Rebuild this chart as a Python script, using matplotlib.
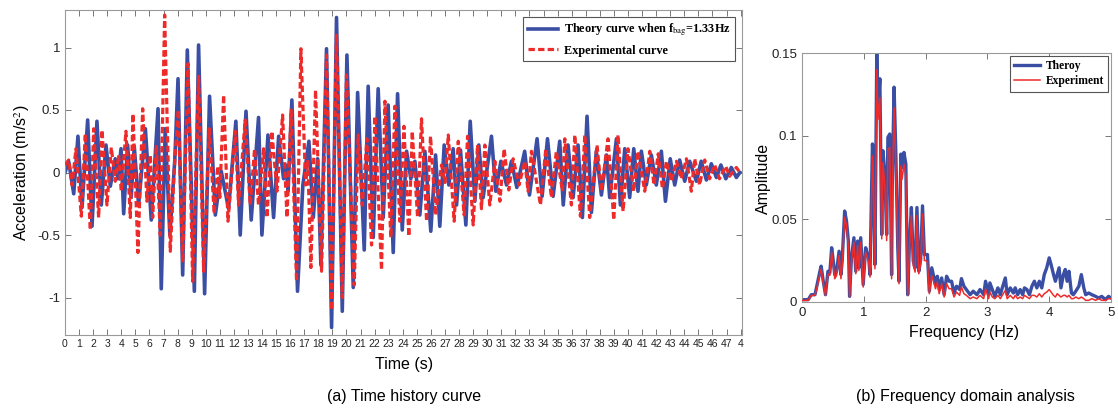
import matplotlib
matplotlib.use("Agg")
import matplotlib.pyplot as plt

# ---------------- data: time history (extrema) ----------------
theory_t = [0.00, 0.26, 0.62, 0.92, 1.21, 1.61, 1.92, 2.27, 2.58, 2.91,
            3.22, 3.57, 3.76, 3.98, 4.17, 4.45, 4.70, 4.92, 5.23, 5.71,
            6.13, 6.61, 6.84, 7.12, 7.45, 7.80, 8.03, 8.36, 8.69, 9.19,
            9.49, 9.92, 10.27, 10.68, 11.10, 11.62, 12.14, 12.45, 12.86, 13.23,
            13.75, 13.99, 14.42, 14.82, 15.18, 15.53, 15.70, 15.85, 16.12, 16.52,
            16.90, 17.33, 17.64, 17.95, 18.18, 18.58, 18.94, 19.29, 19.70, 20.03,
            20.48, 20.79, 21.26, 21.54, 21.90, 22.25, 22.61, 22.96, 23.32, 23.63,
            23.96, 24.27, 24.57, 24.86, 25.21, 25.57, 25.99, 26.33, 26.63, 26.94,
            27.27, 27.58, 27.82, 28.10, 28.48, 28.79, 29.12, 29.40, 29.71, 30.30,
            30.61, 30.97, 31.37, 31.72, 32.10, 32.66, 33.00, 33.54, 33.90, 34.28,
            34.68, 35.15, 35.40, 35.74, 36.10, 36.45, 36.76, 37.09, 37.40, 37.75,
            38.11, 38.47, 38.70, 39.18, 39.46, 39.77, 40.12, 40.41, 40.71, 40.95,
            41.30, 41.66, 42.01, 42.37, 42.66, 43.00, 43.32, 43.67, 44.03, 44.38,
            44.86, 45.20, 45.57, 45.92, 46.28, 46.60, 46.95, 47.34, 47.70, 47.95]
theory_a = [0.00, 0.09, -0.17, 0.29, -0.28, 0.42, -0.43, 0.41, -0.26, 0.22,
            -0.11, 0.11, -0.05, 0.19, -0.33, 0.22, -0.20, 0.21, -0.26, 0.35,
            -0.38, 0.51, -0.93, 0.35, -0.50, 0.10, 0.75, -0.82, 0.98, -0.95,
            1.02, -0.97, 0.61, -0.34, 0.01, -0.29, 0.41, -0.50, 0.49, -0.38,
            0.44, -0.50, 0.30, -0.36, 0.29, -0.05, 0.06, -0.15, 0.58, -0.95,
            -0.10, 0.25, -0.36, 0.11, -0.74, 0.99, -1.24, 1.24, -1.11, 0.94,
            -0.92, 0.64, -0.62, 0.69, -0.52, 0.67, -0.36, 0.54, -0.64, 0.63,
            -0.46, 0.17, -0.05, 0.09, -0.34, 0.17, -0.47, 0.14, -0.43, 0.22,
            -0.10, 0.19, -0.26, 0.18, -0.42, 0.41, -0.23, 0.22, -0.20, 0.29,
            -0.15, 0.09, -0.10, 0.09, -0.12, 0.17, -0.18, 0.27, -0.19, 0.27,
            -0.19, 0.25, -0.26, 0.22, -0.20, 0.22, -0.36, 0.45, -0.32, 0.17,
            -0.18, 0.14, -0.20, 0.27, -0.26, 0.19, -0.20, 0.19, -0.15, 0.17,
            -0.10, 0.14, -0.10, 0.17, -0.23, 0.11, -0.10, 0.10, -0.07, 0.09,
            -0.07, 0.09, -0.06, 0.07, -0.04, 0.06, -0.05, 0.04, -0.04, 0.00]

exp_t = [0.00, 0.26, 0.50, 0.78, 1.16, 1.44, 1.80, 2.04, 2.39, 2.63,
         2.98, 3.29, 3.57, 3.81, 4.00, 4.33, 4.64, 4.83, 5.18, 5.52,
         5.82, 6.06, 6.23, 6.49, 6.77, 7.08, 7.48, 7.80, 8.05, 8.36,
         8.74, 9.07, 9.49, 9.85, 10.25, 10.60, 10.85, 11.00, 11.27, 11.58,
         12.10, 12.33, 12.80, 13.16, 13.47, 13.75, 14.11, 14.35, 14.70, 15.06,
         15.46, 15.77, 16.07, 16.45, 16.76, 17.10, 17.25, 17.47, 17.80, 18.23,
         18.58, 18.94, 19.29, 19.70, 20.00, 20.55, 20.83, 21.12, 21.45, 21.78,
         22.02, 22.49, 22.73, 23.15, 23.44, 23.79, 24.08, 24.43, 24.67, 25.05,
         25.33, 25.69, 25.97, 26.33, 26.75, 27.00, 27.23, 27.65, 27.94, 28.36,
         28.60, 29.00, 29.31, 29.59, 29.83, 30.18, 30.54, 30.90, 31.20, 31.53,
         31.84, 32.26, 32.67, 32.90, 33.14, 33.78, 34.16, 34.56, 34.91, 35.34,
         35.51, 35.98, 36.22, 36.62, 36.93, 37.28, 37.80, 38.11, 38.58, 38.99,
         39.29, 39.65, 40.00, 40.41, 40.71, 41.19, 41.55, 41.85, 42.15, 42.45,
         42.73, 43.08, 43.44, 43.79, 44.15, 44.50, 44.74, 45.09, 45.45, 45.80,
         46.16, 46.50, 46.94, 47.22, 47.70, 47.95]
exp_a = [0.06, 0.10, -0.10, 0.19, -0.35, 0.31, -0.46, 0.35, -0.36, 0.34,
         -0.26, 0.20, -0.07, 0.14, -0.15, 0.33, -0.36, 0.47, -0.64, 0.51,
         -0.23, 0.14, -0.36, 0.22, -0.50, 1.26, -0.63, 0.10, 0.50, -0.72,
         0.87, -0.87, 0.78, -0.79, 0.35, -0.33, 0.05, -0.20, 0.62, -0.39,
         0.33, -0.26, 0.42, -0.26, 0.19, -0.26, 0.19, -0.36, 0.33, -0.15,
         0.46, -0.36, 0.50, -0.87, 0.99, -0.10, 0.10, -0.76, 0.66, -0.79,
         0.94, -1.10, 1.11, -1.00, 0.78, -0.90, 0.30, -0.26, 0.27, -0.58,
         0.45, -0.78, 0.57, -0.52, 0.53, -0.39, 0.37, -0.51, 0.33, -0.36,
         0.43, -0.39, 0.29, -0.34, 0.06, -0.08, 0.30, -0.39, 0.25, -0.34,
         0.29, -0.42, 0.22, -0.29, 0.22, -0.26, 0.09, -0.23, 0.19, -0.14,
         0.11, -0.10, 0.09, -0.15, 0.17, -0.26, 0.19, -0.20, 0.17, -0.15,
         0.27, -0.26, 0.30, -0.35, 0.30, -0.36, 0.22, -0.15, 0.27, -0.38,
         0.30, -0.31, 0.19, -0.15, 0.17, -0.15, 0.17, -0.10, 0.15, -0.13,
         0.09, -0.07, 0.09, -0.05, 0.11, -0.15, 0.11, -0.10, 0.10, -0.05,
         0.06, -0.05, 0.05, -0.03, 0.04, 0.00]

time_ticks = list(range(0, 49))
time_ticklabels = [str(i) for i in range(0, 48)] + ["4"]

# ---------------- data: frequency spectrum ----------------
freq = [0.00, 0.10, 0.15, 0.21, 0.25, 0.29, 0.31, 0.34, 0.38, 0.42,
        0.45, 0.48, 0.50, 0.53, 0.56, 0.60, 0.63, 0.65, 0.69, 0.72,
        0.75, 0.77, 0.80, 0.84, 0.87, 0.90, 0.92, 0.95, 0.99, 1.03,
        1.06, 1.08, 1.10, 1.14, 1.15, 1.18, 1.21, 1.23, 1.26, 1.29,
        1.31, 1.34, 1.37, 1.39, 1.42, 1.45, 1.46, 1.49, 1.52, 1.55,
        1.57, 1.60, 1.62, 1.65, 1.68, 1.71, 1.74, 1.77, 1.80, 1.83,
        1.86, 1.89, 1.92, 1.95, 1.98, 2.00, 2.03, 2.06, 2.10, 2.13,
        2.16, 2.19, 2.22, 2.26, 2.30, 2.34, 2.38, 2.42, 2.46, 2.50,
        2.55, 2.58, 2.62, 2.66, 2.72, 2.77, 2.83, 2.88, 2.94, 2.97,
        3.02, 3.04, 3.08, 3.12, 3.17, 3.21, 3.24, 3.29, 3.32, 3.37,
        3.42, 3.45, 3.49, 3.53, 3.57, 3.60, 3.64, 3.68, 3.72, 3.76,
        3.80, 3.84, 3.88, 3.92, 3.96, 4.00, 4.03, 4.07, 4.10, 4.13,
        4.16, 4.19, 4.23, 4.26, 4.29, 4.32, 4.36, 4.39, 4.43, 4.48,
        4.52, 4.56, 4.59, 4.64, 4.69, 4.75, 4.80, 4.85, 4.91, 4.96,
        5.00]
amp_theory = [.0014, .0014, .0044, .0044, .0115, .0185, .0216, .0135, .0044, .0185,
              .0175, .0327, .0266, .0165, .0185, .0306, .0165, .0246, .0548, .0488,
              .0367, .0034, .0266, .0387, .0185, .0367, .0206, .0387, .0105, .0327,
              .0286, .0266, .0165, .0952, .0891, .0226, .1496, .1153, .1345, .0407,
              .0911, .0770, .0407, .0992, .1012, .0165, .0690, .1294, .0871, .0327,
              .0125, .0891, .0810, .0901, .0831, .0044, .0367, .0569, .0246, .0206,
              .0569, .0185, .0256, .0579, .0286, .0286, .0286, .0065, .0206, .0155,
              .0105, .0155, .0075, .0145, .0044, .0155, .0125, .0125, .0054, .0095,
              .0075, .0141, .0095, .0075, .0044, .0065, .0044, .0075, .0044, .0125,
              .0044, .0115, .0075, .0034, .0085, .0044, .0085, .0145, .0044, .0085,
              .0054, .0085, .0044, .0075, .0044, .0085, .0075, .0044, .0095, .0125,
              .0085, .0125, .0085, .0165, .0206, .0266, .0226, .0165, .0125, .0165,
              .0206, .0085, .0165, .0196, .0125, .0185, .0054, .0044, .0065, .0095,
              .0165, .0085, .0044, .0054, .0044, .0034, .0024, .0034, .0014, .0034,
              .0024]
amp_exp = [.001, .001, .004, .004, .010, .017, .020, .012, .004, .017,
           .016, .030, .024, .014, .016, .028, .014, .022, .051, .046,
           .033, .003, .024, .036, .017, .034, .019, .036, .009, .030,
           .026, .024, .015, .088, .082, .020, .140, .110, .123, .038,
           .084, .070, .037, .092, .093, .014, .063, .117, .080, .030,
           .011, .082, .074, .083, .076, .004, .033, .052, .022, .018,
           .052, .017, .023, .053, .025, .025, .024, .005, .016, .012,
           .008, .012, .005, .011, .003, .011, .008, .008, .003, .006,
           .004, .009, .005, .004, .002, .003, .002, .004, .002, .008,
           .002, .006, .003, .002, .004, .002, .004, .007, .002, .004,
           .002, .004, .002, .003, .002, .004, .003, .002, .004, .004,
           .003, .005, .003, .005, .006, .0075, .006, .004, .003, .005,
           .004, .003, .004, .004, .003, .004, .002, .002, .003, .002,
           .003, .002, .001, .001, .002, .001, .002, .001, .001, .002,
           .002]

# ---------------- styling ----------------
BLUE = "#3a4ea3"
RED = "#ee2b2b"
SPINE = "#9a9a9a"
SANS = ["Liberation Sans", "DejaVu Sans"]
NARROW = ["Liberation Sans Narrow", "Liberation Sans", "DejaVu Sans"]
SERIF = ["Liberation Serif", "DejaVu Serif"]
plt.rcParams["mathtext.fontset"] = "stix"

W, H = 1118, 413
fig = plt.figure(figsize=(W / 100, H / 100), dpi=100)

def ax_rect(x0, y0, x1, y1):
    return [x0 / W, 1 - y1 / H, (x1 - x0) / W, (y1 - y0) / H]

def style_axes(ax):
    for s in ax.spines.values():
        s.set_color(SPINE)
        s.set_linewidth(0.8)
    ax.tick_params(direction="in", length=4, width=0.7, color="#777777",
                   top=True, right=True)
    for lbl in ax.get_xticklabels() + ax.get_yticklabels():
        lbl.set_color("#222222")

# ---- left: time history ----
ax1 = fig.add_axes(ax_rect(65, 10, 742, 335))
ax1.plot(theory_t, theory_a, color=BLUE, lw=2.6, solid_joinstyle="round",
         label=r"Theory curve when f$_{\rm bag}$=1.33Hz", zorder=2)
ax1.plot(exp_t, exp_a, color=RED, lw=2.3, dashes=(2.0, 1.0),
         label="Experimental curve", zorder=3)
ax1.set_xlim(0, 48.1)
ax1.set_ylim(-1.3, 1.3)
ax1.set_yticks([-1, -0.5, 0, 0.5, 1])
ax1.set_yticklabels(["-1", "-0.5", "0", "0.5", "1"], fontsize=9.5, family=SANS)
ax1.set_xticks(time_ticks)
ax1.set_xticklabels(time_ticklabels, fontsize=7.5, family=NARROW)
style_axes(ax1)
ax1.tick_params(axis="x", pad=3)
leg1 = ax1.legend(loc="upper right", bbox_to_anchor=(0.99, 0.978),
                  borderaxespad=0, fancybox=False, framealpha=1,
                  edgecolor="#555555", handlelength=2.4,
                  prop={"family": SERIF, "weight": "bold", "size": 8.8},
                  borderpad=0.4, labelspacing=0.5, handletextpad=0.5)
leg1.get_frame().set_linewidth(0.8)

fig.text(22 / W, 1 - 173 / H, r"Acceleration (m/s$^2$)", rotation=90,
         ha="center", va="center", fontsize=11.5, family=SANS)
fig.text(404 / W, 1 - 364 / H, "Time (s)", ha="center", va="center",
         fontsize=11.5, family=SANS)
fig.text(404 / W, 1 - 397 / H, "(a) Time history curve", ha="center",
         va="center", fontsize=11.5, family=SANS)

# ---- right: frequency domain ----
ax2 = fig.add_axes(ax_rect(802, 53, 1111, 302))
ax2.plot(freq, amp_theory, color=BLUE, lw=2.4, label="Theroy", zorder=2)
ax2.plot(freq, amp_exp, color=RED, lw=1.1, label="Experiment", zorder=3)
ax2.set_xlim(0, 5)
ax2.set_ylim(0, 0.15)
ax2.set_xticks([0, 1, 2, 3, 4, 5])
ax2.set_xticklabels(["0", "1", "2", "3", "4", "5"], fontsize=9.5, family=SANS)
ax2.set_yticks([0, 0.05, 0.1, 0.15])
ax2.set_yticklabels(["0", "0.05", "0.1", "0.15"], fontsize=9.5, family=SANS)
style_axes(ax2)
leg2 = ax2.legend(loc="upper right", bbox_to_anchor=(0.99, 0.988),
                  borderaxespad=0, fancybox=False, framealpha=1,
                  edgecolor="#555555", handlelength=2.2,
                  prop={"family": SERIF, "weight": "bold", "size": 8.3},
                  borderpad=0.35, labelspacing=0.3, handletextpad=0.5)
leg2.get_frame().set_linewidth(0.8)

fig.text(763 / W, 1 - 178 / H, "Amplitude", rotation=90, ha="center",
         va="center", fontsize=11.5, family=SANS)
fig.text(964 / W, 1 - 332 / H, "Frequency (Hz)", ha="center", va="center",
         fontsize=11.5, family=SANS)
fig.text(965 / W, 1 - 396 / H, "(b) Frequency domain analysis", ha="center",
         va="center", fontsize=11.5, family=SANS)

fig.savefig("out.png", dpi=100, facecolor="white")
